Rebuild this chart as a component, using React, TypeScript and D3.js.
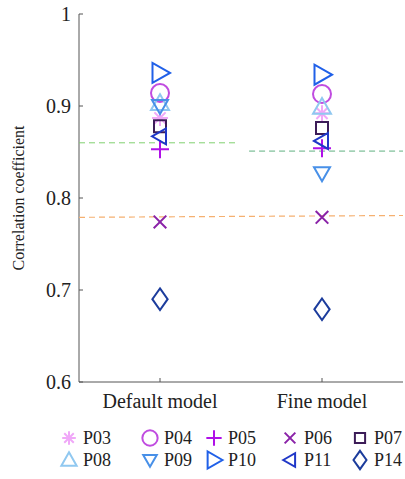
import React from "react";
import * as d3 from "d3";

const models = ["Default model", "Fine model"];
const participants = ["P03", "P04", "P05", "P06", "P07", "P08", "P09", "P10", "P11", "P14"];
const shapes = ["asterisk", "circle", "plus", "cross", "square", "up", "down", "right", "left", "diamond"];
const colors = ["#f0a8f8", "#c04ce0", "#b010e8", "#8a22a8", "#3c1c58", "#90c8f0", "#4890e8", "#2060e8", "#2038c8", "#1c3c9c"];
const defaultValues = [0.887, 0.914, 0.853, 0.774, 0.878, 0.903, 0.9, 0.936, 0.867, 0.69];
const fineValues = [0.892, 0.913, 0.854, 0.779, 0.876, 0.899, 0.827, 0.934, 0.862, 0.679];
const meanHigh = [0.86, 0.851];
const meanLow = [0.779, 0.781];
const yTicks = [0.6, 0.7, 0.8, 0.9, 1];

function markerPath(shape: string, s: number) {
  const h = s / 2;
  switch (shape) {
    case "circle":
      return d3.arc()({ innerRadius: 0, outerRadius: h, startAngle: 0, endAngle: 2 * Math.PI }) as string;
    case "square":
      return `M${-h * 0.75},${-h * 0.75}H${h * 0.75}V${h * 0.75}H${-h * 0.75}Z`;
    case "plus":
      return `M${-h},0H${h}M0,${-h}V${h}`;
    case "cross":
      return `M${-h * 0.7},${-h * 0.7}L${h * 0.7},${h * 0.7}M${-h * 0.7},${h * 0.7}L${h * 0.7},${-h * 0.7}`;
    case "asterisk":
      return `M${-h},0H${h}M0,${-h}V${h}M${-h * 0.7},${-h * 0.7}L${h * 0.7},${h * 0.7}M${-h * 0.7},${h * 0.7}L${h * 0.7},${-h * 0.7}`;
    case "up":
      return `M0,${-h}L${h},${h * 0.75}L${-h},${h * 0.75}Z`;
    case "down":
      return `M0,${h}L${h},${-h * 0.75}L${-h},${-h * 0.75}Z`;
    case "right":
      return `M${h},0L${-h * 0.75},${-h}L${-h * 0.75},${h}Z`;
    case "left":
      return `M${-h},0L${h * 0.75},${-h}L${h * 0.75},${h}Z`;
    case "diamond":
      return `M0,${-h * 1.2}L${h * 0.85},0L0,${h * 1.2}L${-h * 0.85},0Z`;
  }
  return "";
}

const tf = { fontFamily: "Liberation Serif" };

export default function App() {
  const w = 405, h = 479;
  const x = d3.scaleLinear().domain([0.5, 2.5]).range([79, 403]);
  const y = d3.scaleLinear().domain([0.6, 1]).range([382, 14]);
  const series = [defaultValues, fineValues];
  const sizes: Record<string, number> = { circle: 18, square: 16, plus: 18, cross: 18, asterisk: 16, up: 18, down: 16, right: 20, left: 16, diamond: 18 };

  const points = participants.map((p, i) => (
    <g key={p}>
      {series.map((vals, m) => (
        <path
          key={m}
          d={markerPath(shapes[i], sizes[shapes[i]])}
          transform={`translate(${x(m + 1)},${y(vals[i])})`}
          fill="none"
          stroke={colors[i]}
          strokeWidth={2}
        />
      ))}
    </g>
  ));

  const legendCols = [69, 150, 214, 290, 360];
  const legendRows = [438, 460];

  return (
    <svg width={w} height={h} style={{ position: "absolute", left: 0, top: 0, background: "#fff" }}>
      <g fill="#222">
        <line x1={79} x2={79} y1={y(1)} y2={y(0.6)} stroke="#555" />
        <line x1={79} x2={403} y1={y(0.6)} y2={y(0.6)} stroke="#555" />
        {yTicks.map((t) => (
          <g key={t}>
            <line x1={79} x2={83} y1={y(t)} y2={y(t)} stroke="#555" />
            <text x={71} y={y(t)} dy="0.35em" textAnchor="end" fontSize={20} style={tf}>{t === 1 ? "1" : t.toFixed(1)}</text>
          </g>
        ))}
        {models.map((m, i) => (
          <g key={m}>
            <line x1={x(i + 1)} x2={x(i + 1)} y1={y(0.6)} y2={y(0.6) - 4} stroke="#555" />
            <text x={x(i + 1)} y={408} textAnchor="middle" fontSize={20} style={tf}>{m}</text>
          </g>
        ))}
        <text transform={`translate(24,${(y(1) + y(0.6)) / 2}) rotate(-90)`} textAnchor="middle" fontSize={16} style={tf}>Correlation coefficient</text>
        <line x1={x(0.5)} x2={x(1.48)} y1={y(meanHigh[0])} y2={y(meanHigh[0])} stroke="#80d070" strokeDasharray="6,4" strokeWidth={1} />
        <line x1={x(1.55)} x2={x(2.5)} y1={y(meanHigh[1])} y2={y(meanHigh[1])} stroke="#60b080" strokeDasharray="6,4" strokeWidth={1} />
        <line x1={x(0.5)} x2={x(2.5)} y1={y(meanLow[0])} y2={y(meanLow[1])} stroke="#f5b070" strokeDasharray="6,4" strokeWidth={1.2} />
        {points}
        {participants.map((p, i) => {
          const cx = legendCols[i % 5];
          const cy = legendRows[Math.floor(i / 5)];
          return (
            <g key={p}>
              <path d={markerPath(shapes[i], sizes[shapes[i]] * 0.85)} transform={`translate(${cx},${cy})`} fill="none" stroke={colors[i]} strokeWidth={2} />
              <text x={cx + 14} y={cy} dy="0.35em" fontSize={18} style={tf}>{p}</text>
            </g>
          );
        })}
      </g>
    </svg>
  );
}
